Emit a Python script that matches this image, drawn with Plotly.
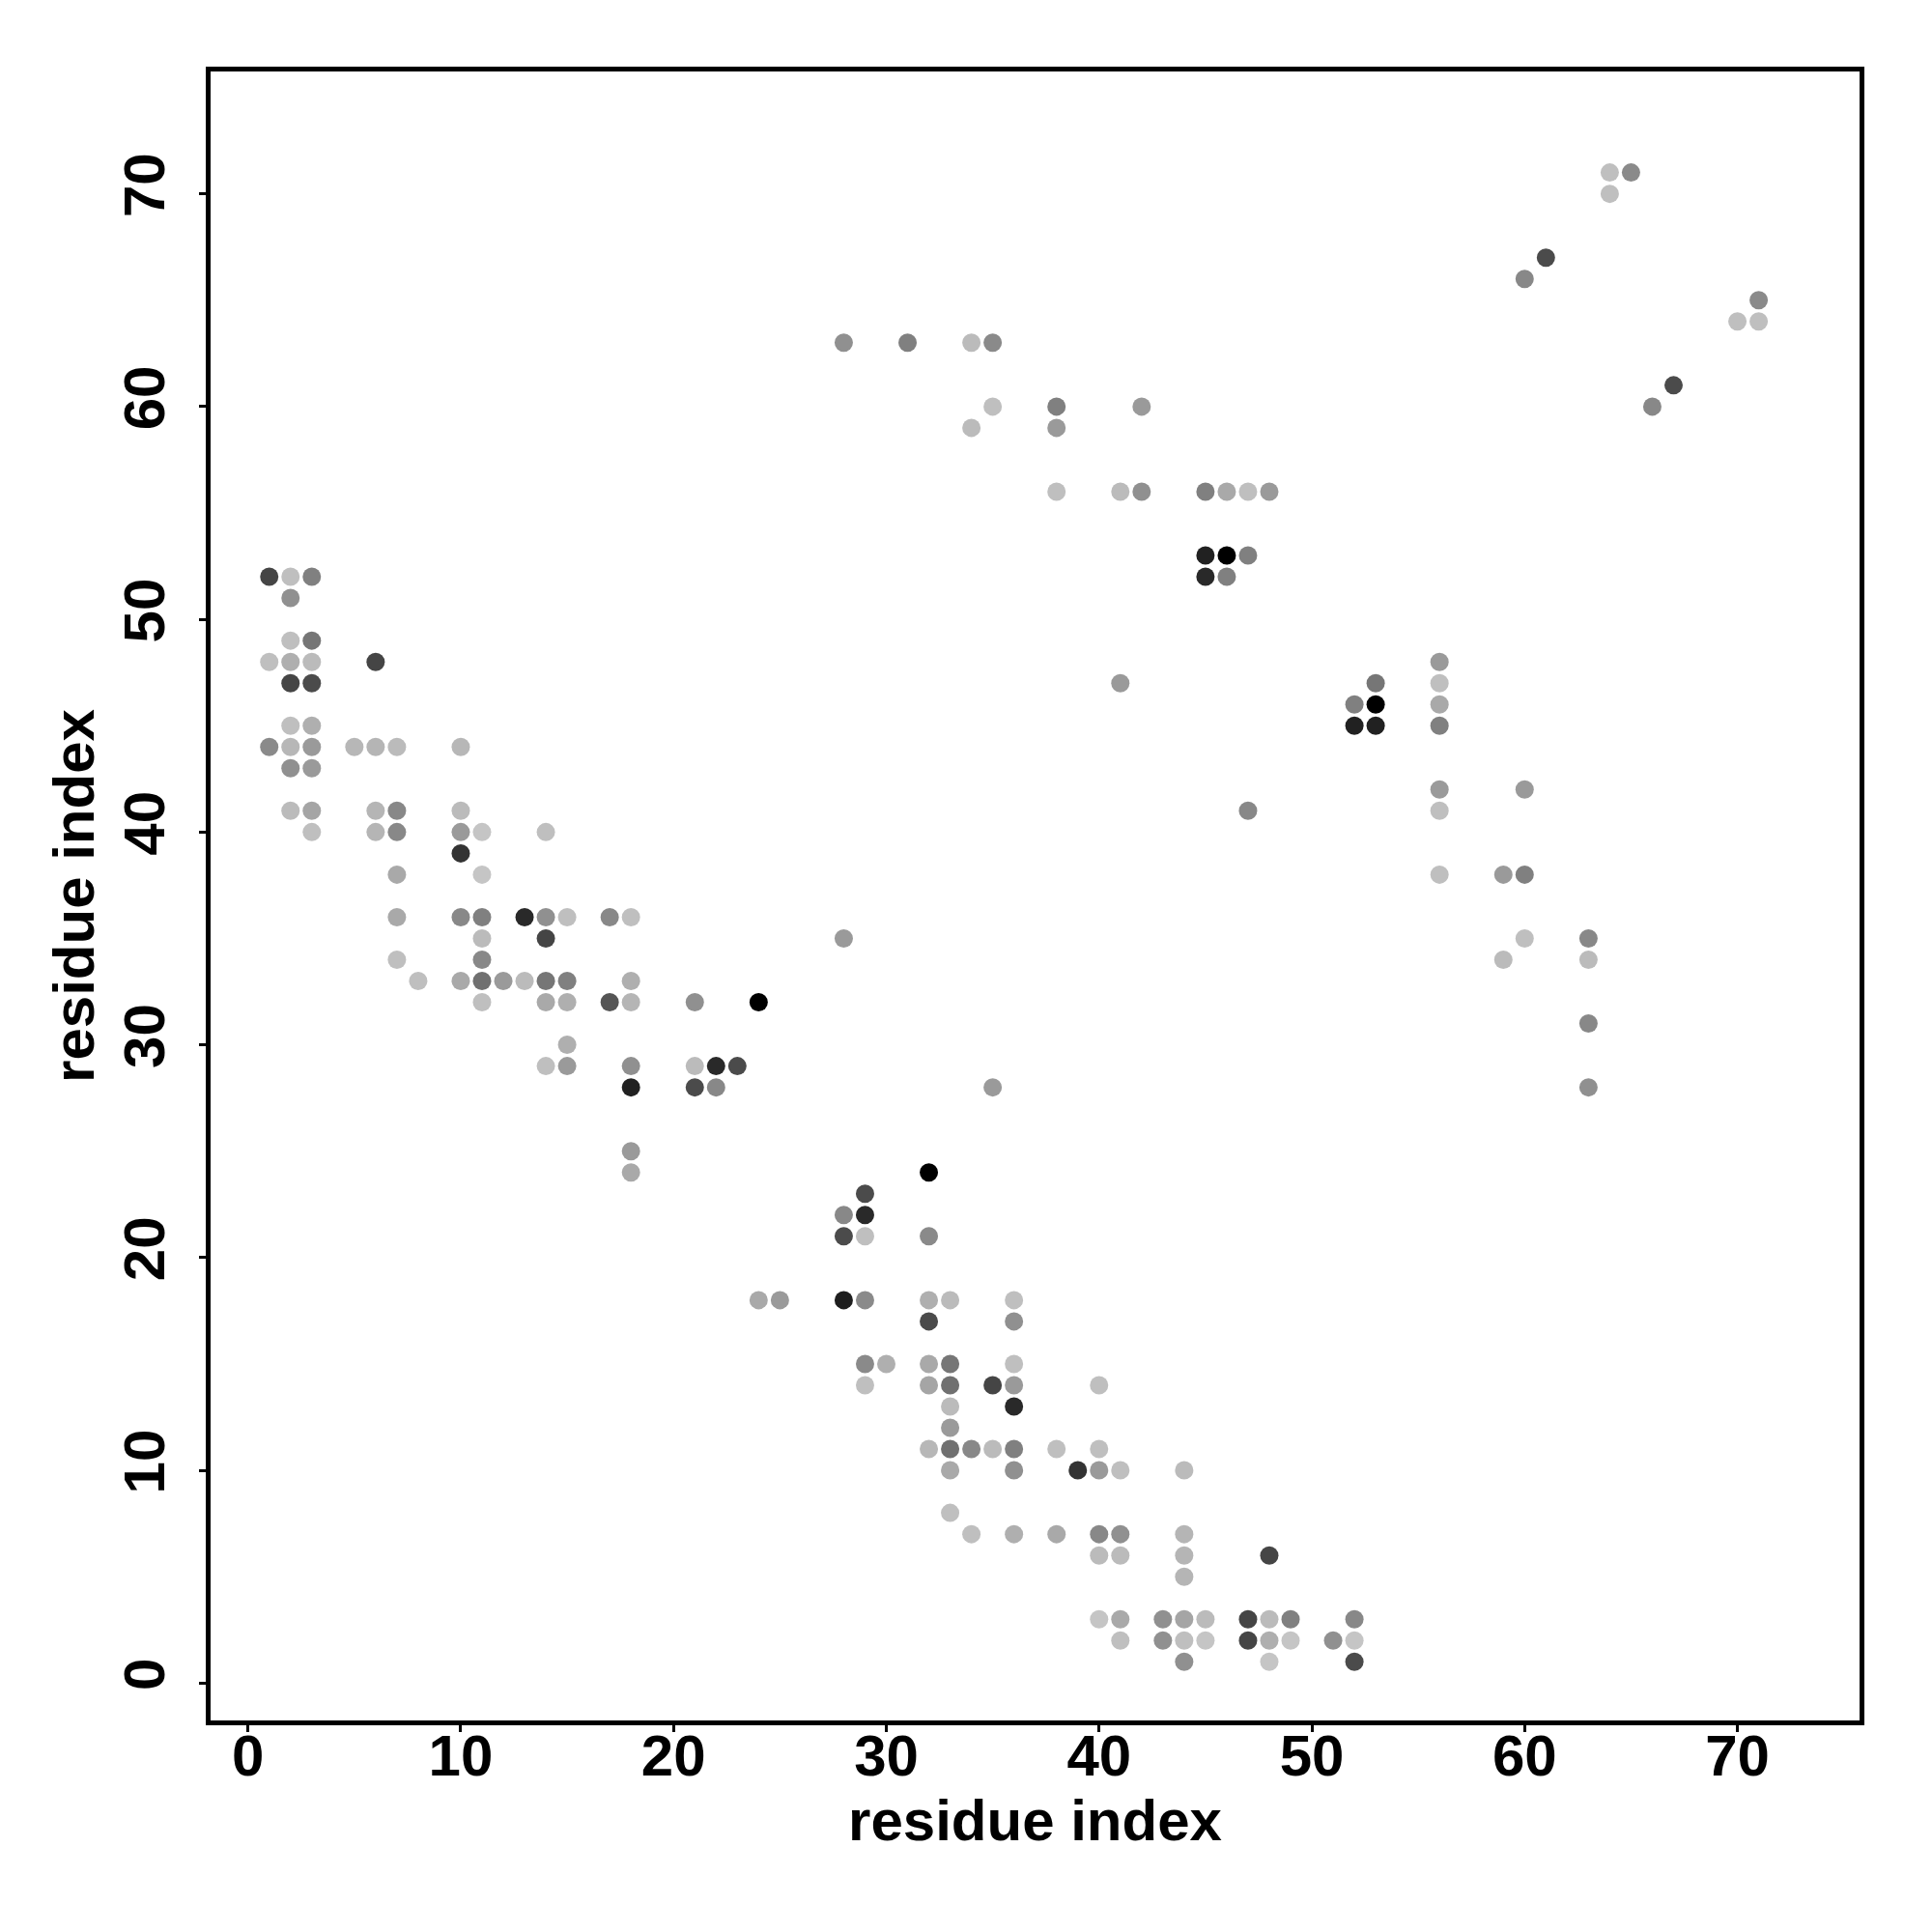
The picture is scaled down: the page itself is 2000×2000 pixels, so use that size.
import plotly.graph_objects as go

# Contact map: residue i (x), residue j (y), contact score (0 = weak/light, 1 = strong/black)
res_i = [
    1, 2, 3, 2, 2, 3, 1, 2, 3, 6, 2, 3, 2, 3,
    1, 2, 3, 5, 6, 7, 10, 2, 3, 2, 3, 6, 7, 10,
    3, 6, 7, 10, 11, 14, 10, 7, 11, 7, 10, 11, 13, 14,
    15, 17, 18, 11, 14, 7, 11, 8, 10, 11, 12, 13, 14, 15,
    18, 11, 14, 15, 17, 18, 21, 24, 15, 14, 15, 18, 21, 22,
    23, 18, 21, 22, 18, 18,
    32, 29, 28, 29, 28, 29, 32, 24, 25, 28, 29, 32, 33, 36,
    32, 36, 29, 30, 32, 33, 36, 29, 32, 33, 35, 36, 40, 33,
    36, 33, 32, 33, 34, 35, 36, 38, 40, 33, 36, 39, 40, 41,
    44, 33, 34, 36, 38, 40, 41, 44, 40, 41, 44, 48, 44, 40,
    41, 43, 44, 45, 47, 48, 49, 52, 41, 43, 44, 45, 47, 48,
    49, 51, 52, 44, 48, 52, 28, 35,
    28, 31, 34, 35, 35, 38, 42, 34, 38, 38, 41, 42, 45, 46,
    47, 48, 45, 46, 47, 45, 46, 41, 47,
    52, 53, 53, 52, 53, 56, 56, 56, 56, 56, 56, 56, 60, 59,
    60, 60, 59, 63, 63, 63, 63,
    64, 65, 64, 60, 61, 71, 70, 71, 67, 66,
]
res_j = [
    52, 52, 52, 51, 49, 49, 48, 48, 48, 48, 47, 47, 45, 45,
    44, 44, 44, 44, 44, 44, 44, 43, 43, 41, 41, 41, 41, 41,
    40, 40, 40, 40, 40, 40, 39, 38, 38, 36, 36, 36, 36, 36,
    36, 36, 36, 35, 35, 34, 34, 33, 33, 33, 33, 33, 33, 33,
    33, 32, 32, 32, 32, 32, 32, 32, 30, 29, 29, 29, 29, 29,
    29, 28, 28, 28, 25, 24,
    24, 23, 22, 22, 21, 21, 21, 18, 18, 18, 18, 18, 18, 18,
    17, 17, 15, 15, 15, 15, 15, 14, 14, 14, 14, 14, 14, 13,
    13, 12, 11, 11, 11, 11, 11, 11, 11, 10, 10, 10, 10, 10,
    10, 8, 7, 7, 7, 7, 7, 7, 6, 6, 6, 6, 5, 3,
    3, 3, 3, 3, 3, 3, 3, 3, 2, 2, 2, 2, 2, 2,
    2, 2, 2, 1, 1, 1, 35, 28,
    63, 63, 63, 63, 60, 60, 60, 59, 59, 56, 56, 56, 56, 56,
    56, 56, 53, 53, 53, 52, 52, 47, 41,
    46, 47, 46, 45, 45, 48, 47, 46, 45, 42, 41, 38, 42, 38,
    38, 35, 34, 35, 34, 31, 28,
    71, 71, 70, 66, 67, 65, 64, 64, 61, 60,
]
score = [
    0.65, 0.03, 0.35, 0.27, 0.03, 0.40, 0.03, 0.11, 0.05, 0.65, 0.65, 0.62, 0.03, 0.11,
    0.30, 0.07, 0.22, 0.07, 0.08, 0.05, 0.07, 0.27, 0.22, 0.05, 0.16, 0.08, 0.31, 0.05,
    0.03, 0.08, 0.31, 0.22, 0.00, 0.03, 0.74, 0.14, 0.00, 0.14, 0.31, 0.35, 0.79, 0.27,
    0.03, 0.31, 0.03, 0.05, 0.65, 0.03, 0.31, 0.03, 0.14, 0.43, 0.22, 0.05, 0.40, 0.35,
    0.11, 0.03, 0.14, 0.11, 0.57, 0.08, 0.27, 1.00, 0.11, 0.03, 0.22, 0.27, 0.05, 0.79,
    0.62, 0.83, 0.62, 0.31, 0.22, 0.14,
    1.00, 0.62, 0.31, 0.79, 0.62, 0.03, 0.30, 0.14, 0.22, 0.85, 0.30, 0.11, 0.05, 0.03,
    0.62, 0.27, 0.30, 0.11, 0.14, 0.40, 0.03, 0.03, 0.16, 0.43, 0.65, 0.22, 0.03, 0.05,
    0.79, 0.22, 0.07, 0.43, 0.31, 0.05, 0.35, 0.03, 0.03, 0.14, 0.27, 0.74, 0.22, 0.03,
    0.05, 0.03, 0.03, 0.11, 0.14, 0.31, 0.27, 0.08, 0.05, 0.05, 0.08, 0.65, 0.08, 0.00,
    0.14, 0.27, 0.16, 0.05, 0.65, 0.05, 0.35, 0.31, 0.03, 0.27, 0.03, 0.00, 0.65, 0.11,
    0.00, 0.27, 0.00, 0.27, 0.00, 0.62, 0.22, 0.22,
    0.27, 0.35, 0.05, 0.30, 0.03, 0.35, 0.22, 0.05, 0.22, 0.03, 0.05, 0.27, 0.35, 0.14,
    0.03, 0.22, 0.83, 1.00, 0.35, 0.79, 0.35, 0.22, 0.31,
    0.35, 0.40, 1.00, 0.83, 0.83, 0.22, 0.03, 0.14, 0.35, 0.22, 0.03, 0.03, 0.22, 0.22,
    0.35, 0.03, 0.05, 0.31, 0.05, 0.31, 0.27,
    0.03, 0.30, 0.03, 0.31, 0.62, 0.30, 0.03, 0.03, 0.62, 0.31,
]

tick_vals = [0, 10, 20, 30, 40, 50, 60, 70]
tick_text = ["0", "10", "20", "30", "40", "50", "60", "70"]
axis_title = "residue index"

FONT = "Liberation Sans, Arial, Helvetica, sans-serif"

fig = go.Figure(
    go.Scatter(
        x=res_i,
        y=res_j,
        mode="markers",
        marker=dict(
            size=19,
            color=score,
            cmin=0,
            cmax=1,
            colorscale=[[0, "rgb(197,197,197)"], [1, "rgb(0,0,0)"]],
            line=dict(width=0),
        ),
        showlegend=False,
        hoverinfo="x+y",
    )
)

axis_common = dict(
    tickvals=tick_vals,
    ticktext=tick_text,
    ticks="outside",
    ticklen=7,
    tickwidth=2.5,
    tickcolor="black",
    showline=True,
    linewidth=5,
    linecolor="black",
    mirror=True,
    showgrid=False,
    zeroline=False,
    automargin=False,
    tickfont=dict(family=FONT, size=60, color="black", weight="bold"),
)

fig.update_xaxes(
    range=[-1.757, 75.74],
    ticklabelstandoff=-27,
    title=dict(text=axis_title, font=dict(family=FONT, size=60, color="black", weight="bold"), standoff=12),
    **axis_common,
)
fig.update_yaxes(
    range=[-1.757, 75.75],
    tickangle=-90,
    ticklabelstandoff=12,
    title=dict(text=axis_title, font=dict(family=FONT, size=60, color="black", weight="bold"), standoff=1),
    **axis_common,
)

fig.update_layout(
    width=1992,
    height=1992,
    margin=dict(l=210, r=75, t=66, b=219, pad=0),
    paper_bgcolor="white",
    plot_bgcolor="white",
)

fig.write_html("out.html")
